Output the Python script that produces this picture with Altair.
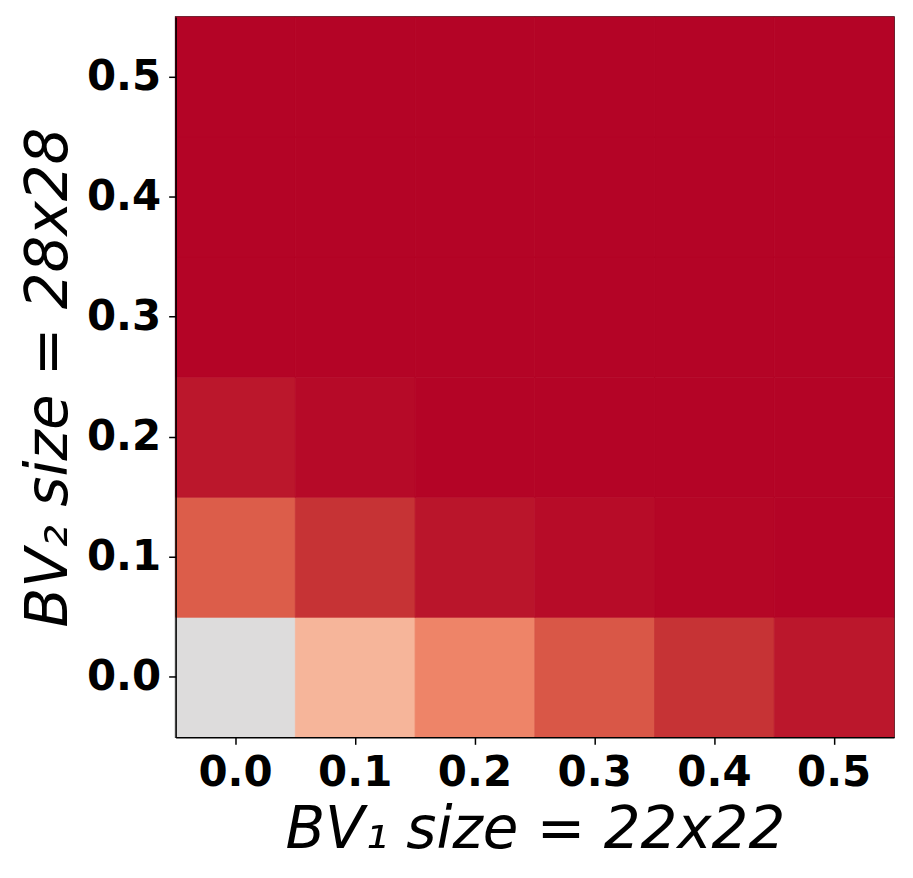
import altair as alt
import pandas as pd

x_levels = ["0.0", "0.1", "0.2", "0.3", "0.4", "0.5"]
y_levels = ["0.0", "0.1", "0.2", "0.3", "0.4", "0.5"]

# score per row (y level), columns follow x_levels
row_00 = [0.50, 0.67, 0.79, 0.875, 0.935, 0.975]
row_01 = [0.865, 0.935, 0.977, 0.99, 0.998, 1.0]
row_02 = [0.975, 0.992, 1.0, 1.0, 1.0, 1.0]
row_03 = [1.0, 1.0, 1.0, 1.0, 1.0, 1.0]
row_04 = [1.0, 1.0, 1.0, 1.0, 1.0, 1.0]
row_05 = [1.0, 1.0, 1.0, 1.0, 1.0, 1.0]
rows = [row_00, row_01, row_02, row_03, row_04, row_05]

# coolwarm colormap stops (upper half)
cmap_domain = [0.5, 0.6, 0.65, 0.7, 0.75, 0.8, 0.85, 0.9, 0.95, 1.0]
cmap_range = ["#dddcdc", "#f1ccb8", "#f6bda2", "#f7aa8d", "#f4987a",
              "#ec7f63", "#e0654f", "#d1493f", "#c12a31", "#b40426"]

records = []
for yi, yl in enumerate(y_levels):
    for xi, xl in enumerate(x_levels):
        records.append({"bv1": xl, "bv2": yl, "score": rows[yi][xi]})
df = pd.DataFrame(records)

FONT = "DejaVu Sans"
cscale = alt.Scale(domain=cmap_domain, range=cmap_range, interpolate="rgb")

chart = alt.Chart(df).mark_rect(strokeWidth=0.8).encode(
    x=alt.X("bv1:O", sort=x_levels,
            scale=alt.Scale(paddingInner=0, paddingOuter=0),
            axis=alt.Axis(title="BV₁ size = 22x22", labelAngle=0)),
    y=alt.Y("bv2:O", sort=list(reversed(y_levels)),
            scale=alt.Scale(paddingInner=0, paddingOuter=0),
            axis=alt.Axis(title="BV₂ size = 28x28")),
    color=alt.Color("score:Q", scale=cscale, legend=None),
    stroke=alt.Stroke("score:Q", scale=cscale, legend=None),
).properties(
    width=720, height=722,
    padding={"top": 7, "left": 12, "right": 10, "bottom": 5},
).configure_view(
    stroke="black", strokeWidth=1.5
).configure_axis(
    domainColor="black", domainWidth=1.5,
    tickColor="black", tickWidth=1.5, tickSize=7,
    labelFont=FONT, labelFontSize=42, labelFontWeight="bold", labelColor="black",
    labelPadding=8,
    titleFont=FONT, titleFontSize=58, titleFontStyle="italic",
    titleFontWeight="normal", titleColor="black", titlePadding=8,
    grid=False,
)

chart.save("out.html", embed_options={"renderer": "svg", "actions": False})
